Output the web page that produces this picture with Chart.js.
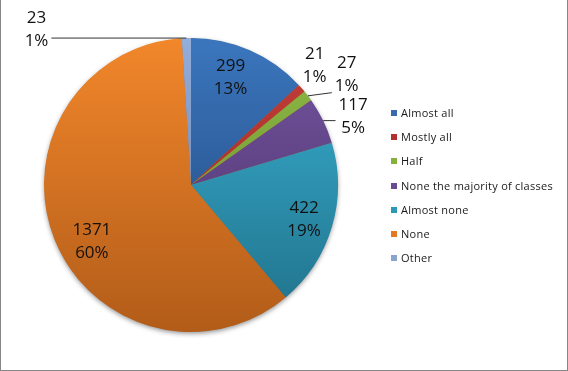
<!DOCTYPE html>
<html>
<head>
<meta charset="utf-8">
<script src="https://cdn.jsdelivr.net/npm/chart.js@4.4.1/dist/chart.umd.min.js"></script>
<style>
    html, body { margin: 0; padding: 0; background: #fff; }
    #wrap { position: relative; width: 568px; height: 371px; overflow: hidden; }
    #pie-chart { position: absolute; left: 0; top: 0; }
    #frame {
        position: absolute; left: 0; top: 0; width: 568px; height: 371px;
        box-sizing: border-box; border: 1px solid #868686; border-top: none;
        pointer-events: none;
    }
    .legend-item {
        position: absolute; left: 391px; height: 14px; line-height: 14px;
        font-family: "Open Sans", "Liberation Sans", sans-serif; font-size: 11px; color: #1a1a1a;
        letter-spacing: 0.25px; white-space: nowrap;
    }
    .legend-swatch {
        position: absolute; left: 0; top: 4px; width: 6px; height: 6px;
    }
    .legend-text { position: absolute; left: 10px; top: 0; }
</style>
</head>
<body>
<div id="wrap">
    <canvas id="pie-chart" width="568" height="371"></canvas>
    <div id="legend"></div>
    <div id="frame"></div>
</div>
<script>
const categories = ["Almost all", "Mostly all", "Half", "None the majority of classes", "Almost none", "None", "Other"];
const counts = [299, 21, 27, 117, 422, 1371, 23];

// gradient ends (top of pie -> bottom of pie) and the flat legend colour
const topColors = ["#3b76bd", "#c8403a", "#92bc49", "#73559f", "#3ab1d4", "#f2872b", "#93aedb"];
const bottomColors = ["#1f4478", "#8a2320", "#5e8428", "#4a3068", "#1f7088", "#b25c19", "#5c77a6"];
const legendColors = ["#3a6aae", "#b3302c", "#86af3c", "#6a4a94", "#2c98b5", "#e37a22", "#8aa4d0"];

// where each data label sits: distance as a share of the radius, turn from the slice middle (deg)
const labelDist = [0.78, 1.17, 1.30, 1.197, 0.805, 0.776, 1.491];
const labelShift = [-3.4, -2.9, 1.9, 3.1, 0.6, -7.8, -43];

const total = counts.reduce((a, b) => a + b, 0);
const labelFont = '17px "Open Sans", "Liberation Sans", sans-serif';
const lineGap = 23;

function sliceGradient(context) {
    const chart = context.chart;
    const area = chart.chartArea;
    const i = context.dataIndex;
    if (!area) return legendColors[i];
    const g = chart.ctx.createLinearGradient(0, area.top, 0, area.bottom);
    g.addColorStop(0, topColors[i]);
    g.addColorStop(1, bottomColors[i]);
    return g;
}

const pieShadow = {
    id: "pieShadow",
    beforeDatasetsDraw(chart) {
        const arc = chart.getDatasetMeta(0).data[0];
        if (!arc) return;
        const { x, y, outerRadius } = arc.getProps(["x", "y", "outerRadius"], true);
        const ctx = chart.ctx;
        ctx.save();
        ctx.shadowColor = "rgba(0,0,0,0.45)";
        ctx.shadowBlur = 5;
        ctx.shadowOffsetY = 2;
        ctx.fillStyle = "#b8601a";
        ctx.beginPath();
        ctx.arc(x, y, outerRadius - 0.5, 0, Math.PI * 2);
        ctx.fill();
        ctx.restore();
    }
};

const pieLabels = {
    id: "pieLabels",
    afterDatasetsDraw(chart) {
        const ctx = chart.ctx;
        const arcs = chart.getDatasetMeta(0).data;
        ctx.save();
        ctx.font = labelFont;
        ctx.fillStyle = "#111";
        ctx.textAlign = "center";
        ctx.textBaseline = "middle";
        arcs.forEach((arc, i) => {
            const p = arc.getProps(["x", "y", "startAngle", "endAngle", "outerRadius"], true);
            const mid = (p.startAngle + p.endAngle) / 2;
            const ang = mid + labelShift[i] * Math.PI / 180;
            const dist = p.outerRadius * labelDist[i];
            const cx = p.x + Math.cos(ang) * dist;
            const cy = p.y + Math.sin(ang) * dist;
            const line1 = String(counts[i]);
            const line2 = Math.round(counts[i] / total * 100) + "%";

            if (labelDist[i] > 1) {
                const w = Math.max(ctx.measureText(line1).width, ctx.measureText(line2).width);
                const left = cx - w / 2 - 3, right = cx + w / 2 + 3;
                const top = cy - lineGap / 2 - 9, bottom = cy + lineGap / 2 + 7;
                const ex = p.x + Math.cos(mid) * p.outerRadius;
                const ey = p.y + Math.sin(mid) * p.outerRadius;
                const nx = Math.min(Math.max(ex, left), right);
                const ny = Math.min(Math.max(ey, top + 14), bottom);
                if (Math.hypot(nx - ex, ny - ey) > 12) {
                    ctx.strokeStyle = "#333";
                    ctx.lineWidth = 1;
                    ctx.beginPath();
                    ctx.moveTo(ex, ey);
                    ctx.lineTo(nx, ny);
                    ctx.stroke();
                }
            }
            ctx.fillText(line1, cx, cy - lineGap / 2);
            ctx.fillText(line2, cx, cy + lineGap / 2);
        });
        ctx.restore();
    }
};

new Chart(document.getElementById("pie-chart"), {
    type: "pie",
    data: {
        labels: categories,
        datasets: [{
            data: counts,
            backgroundColor: sliceGradient,
            borderWidth: 0,
            hoverOffset: 0
        }]
    },
    options: {
        responsive: false,
        animation: false,
        layout: { padding: { left: 44, right: 230, top: 38, bottom: 39 } },
        plugins: {
            legend: { display: false },
            tooltip: { enabled: false }
        }
    },
    plugins: [pieShadow, pieLabels]
});

const legend = document.getElementById("legend");
legend.innerHTML = categories
    .map((label, idx) => {
        const top = 113.3 + idx * 24.07 - 7;
        return `
            <div class="legend-item" style="top:${top}px">
                <span class="legend-swatch" style="background:${legendColors[idx]}"></span>
                <span class="legend-text">${label}</span>
            </div>`;
    })
    .join("");
</script>
</body>
</html>
